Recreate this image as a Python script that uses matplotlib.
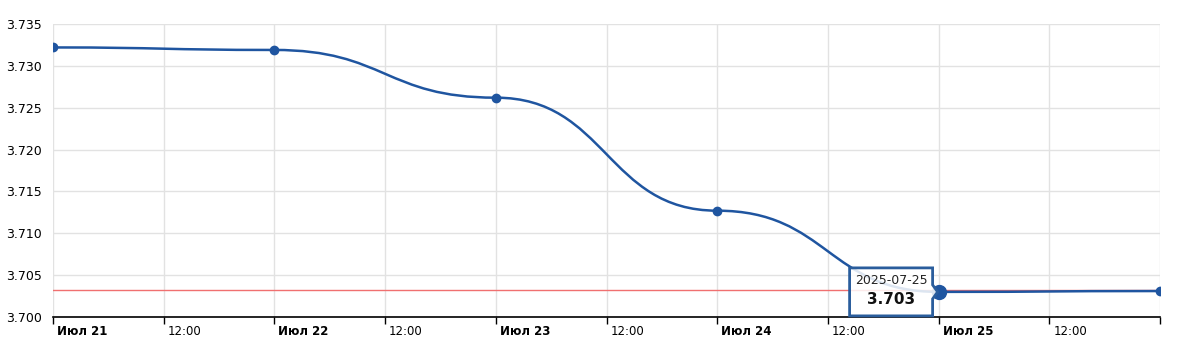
import matplotlib
matplotlib.use("Agg")
import matplotlib.pyplot as plt
import matplotlib.dates as mdates
import matplotlib.transforms as mt
from matplotlib.path import Path
from matplotlib.patches import PathPatch, Polygon
from matplotlib.transforms import IdentityTransform
import datetime as dt

# ---- data ----
dates = ["2025-07-21", "2025-07-22", "2025-07-23", "2025-07-24", "2025-07-25", "2025-07-26"]
rates = [3.7322, 3.7319, 3.7262, 3.7127, 3.7030, 3.7031]
ref_rate = 3.7032
tooltip_date = "2025-07-25"
tooltip_value = "3.703"
month_label = "Июл"
y_ticks = [3.700, 3.705, 3.710, 3.715, 3.720, 3.725, 3.730, 3.735]

line_color = "#1f55a0"

W, H = 1183, 346
fig = plt.figure(figsize=(W / 100, H / 100), dpi=100)
ax = fig.add_axes([53 / W, 29 / H, (1160 - 53) / W, (317 - 24) / H])

xs = [mdates.date2num(dt.datetime.strptime(d, "%Y-%m-%d")) for d in dates]

# ---- smooth curve (bezier with horizontal control points) ----
verts = [(xs[0], rates[0])]
codes = [Path.MOVETO]
for i in range(len(xs) - 1):
    dx = xs[i + 1] - xs[i]
    verts += [(xs[i] + dx * 0.5, rates[i]), (xs[i + 1] - dx * 0.5, rates[i + 1]), (xs[i + 1], rates[i + 1])]
    codes += [Path.CURVE4, Path.CURVE4, Path.CURVE4]
ax.add_patch(PathPatch(Path(verts, codes), facecolor="none", edgecolor=line_color, lw=1.8, zorder=4))

ax.axhline(ref_rate, color="#f07070", lw=1.0, zorder=3)
ax.plot(xs, rates, "o", color=line_color, ms=6, zorder=5)

ax.set_xlim(xs[0], xs[-1])
ax.set_ylim(y_ticks[0], y_ticks[-1])
ax.set_yticks(y_ticks)
ax.set_yticklabels([f"{v:.3f}" for v in y_ticks])

# x ticks every 12 hours
xt = []
xl = []
for i, x in enumerate(xs):
    xt.append(x)
    d = dt.datetime.strptime(dates[i], "%Y-%m-%d")
    xl.append(f"{month_label} {d.day}" if i < len(xs) - 1 else "")
    if i < len(xs) - 1:
        xt.append(x + 0.5)
        xl.append("12:00")
ax.set_xticks(xt)
ax.set_xticklabels(xl)
for lab, txt in zip(ax.get_xticklabels(), xl):
    lab.set_horizontalalignment("left")
    if txt.startswith(month_label):
        lab.set_fontweight("bold")

ax.grid(True, color="#e2e2e2", lw=1.0)
ax.set_axisbelow(True)
for s in ["top", "right", "left"]:
    ax.spines[s].set_visible(False)
ax.spines["bottom"].set_color("#000000")
ax.spines["bottom"].set_linewidth(1.2)
ax.tick_params(axis="x", length=5, width=1.0, color="#000000", labelsize=8.5, pad=1)
ax.tick_params(axis="y", length=0, labelsize=9, pad=8)
offset = mt.ScaledTranslation(4 / 100, 0, fig.dpi_scale_trans)
for lab in ax.get_xticklabels():
    lab.set_transform(lab.get_transform() + offset)

# ---- tooltip ----
ti = dates.index(tooltip_date)
ax.plot([xs[ti]], [rates[ti]], "o", color=line_color, ms=10, zorder=6)
px, py = ax.transData.transform((xs[ti], rates[ti]))
bl, br, bt, bb = px - 89, px - 6, py + 24, py - 24
poly = [(bl, bb), (bl, bt), (br, bt), (br, py + 7), (px - 1, py), (br, py - 7), (br, bb)]
fig.patches.append(Polygon(poly, closed=True, transform=IdentityTransform(),
                           facecolor="white", alpha=0.85, edgecolor="none", zorder=7))
fig.patches.append(Polygon(poly, closed=True, transform=IdentityTransform(),
                           facecolor="none", edgecolor="#2a5d9c", lw=2.0, zorder=8))
cx = (bl + br) / 2
fig.text(cx / W, (py + 11) / H, tooltip_date, ha="center", va="center", fontsize=9, color="#222222", zorder=9)
fig.text(cx / W, (py - 8) / H, tooltip_value, ha="center", va="center", fontsize=11,
         fontweight="bold", color="#111111", zorder=9)

fig.savefig("out.png", dpi=100)
